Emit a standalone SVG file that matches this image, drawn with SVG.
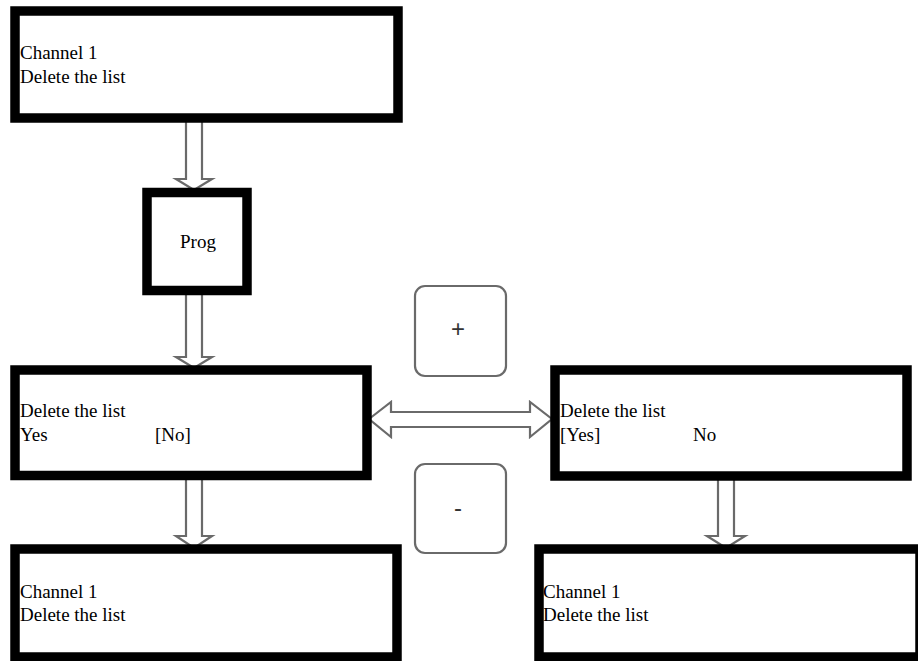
<svg xmlns="http://www.w3.org/2000/svg" width="918" height="661" viewBox="0 0 918 661">
<style>
  .box { fill: #fff; stroke: #000; stroke-width: 9.5; stroke-linejoin: miter; }
  .t { font-family: "Liberation Serif", "Times New Roman", serif; font-size: 19px; fill: #000; }
  .arr { fill: #fff; stroke: #6a6a6a; stroke-width: 2.2; stroke-linejoin: miter; }
  .btn { fill: #fff; stroke: #6a6a6a; stroke-width: 2.2; }
  .sym { font-family: "Liberation Sans", Arial, sans-serif; font-size: 24px; fill: #333; text-anchor: middle; }
</style>
<rect width="918" height="661" fill="#fff"/>
<g id="connectors">
  <polygon class="arr" points="186,118 202,118 202,179 212,179 194,190 176,179 186,179"/>
  <polygon class="arr" points="186,290 202,290 202,357 212,357 194,368 176,357 186,357"/>
  <polygon class="arr" points="186,475 202,475 202,536 212,536 194,548 176,536 186,536"/>
  <polygon class="arr" points="718,475 734,475 734,536 745,536 726,548 707,536 718,536"/>
  <polygon class="arr" points="369,419 391,402 391,412 530,412 530,402 552,419 530,437 530,427 391,427 391,437"/>
</g>
<g id="channel-top">
  <rect class="box" x="15" y="11" width="383" height="107"/>
  <text class="t" x="20" y="59">Channel 1</text>
  <text class="t" x="20" y="83">Delete the list</text>
</g>
<g id="prog">
  <rect class="box" x="147" y="192.5" width="100" height="98"/>
  <text class="t" x="198" y="248" text-anchor="middle">Prog</text>
</g>
<g id="confirm-no">
  <rect class="box" x="15" y="370" width="352" height="105.5"/>
  <text class="t" x="20" y="417">Delete the list</text>
  <text class="t" x="20" y="441">Yes</text>
  <text class="t" x="155" y="441">[No]</text>
</g>
<g id="confirm-yes">
  <rect class="box" x="555" y="370" width="352" height="106"/>
  <text class="t" x="560" y="417">Delete the list</text>
  <text class="t" x="560" y="441">[Yes]</text>
  <text class="t" x="693" y="441">No</text>
</g>
<g id="channel-bottom-left">
  <rect class="box" x="15" y="549" width="382" height="108"/>
  <text class="t" x="20" y="598">Channel 1</text>
  <text class="t" x="20" y="621">Delete the list</text>
</g>
<g id="channel-bottom-right">
  <rect class="box" x="539" y="549" width="381" height="108"/>
  <text class="t" x="543" y="598">Channel 1</text>
  <text class="t" x="543" y="621">Delete the list</text>
</g>
<g id="btn-plus">
  <rect class="btn" x="415" y="286" width="91" height="90" rx="10" ry="10"/>
  <text class="sym" x="458" y="337">+</text>
</g>
<g id="btn-minus">
  <rect class="btn" x="415" y="464" width="91" height="89" rx="10" ry="10"/>
  <text class="sym" x="458" y="516">-</text>
</g>
</svg>
